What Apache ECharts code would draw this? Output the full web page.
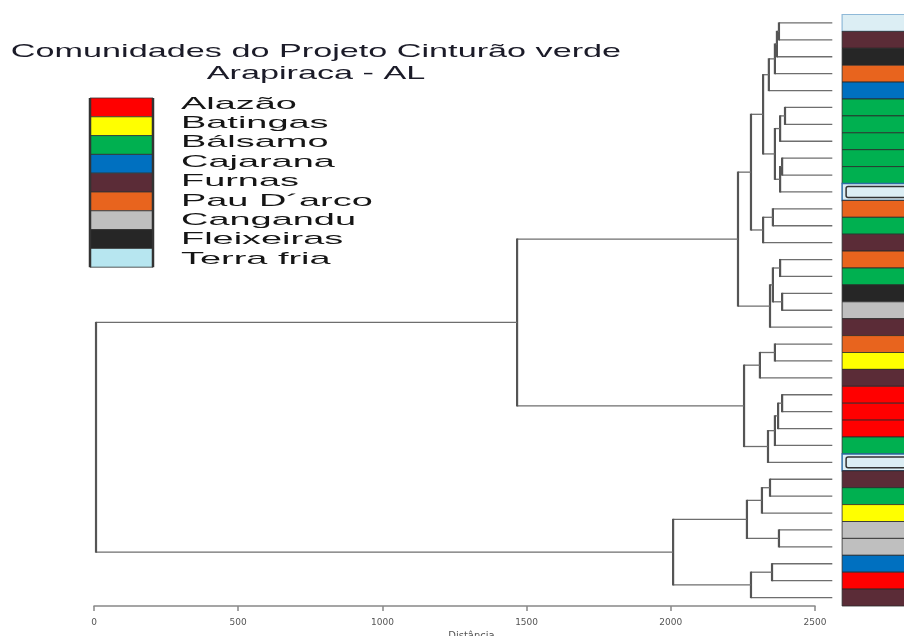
<!DOCTYPE html>
<html>
<head>
<meta charset="utf-8">
<script src="https://cdn.jsdelivr.net/npm/echarts@6/dist/echarts.min.js"></script>
<style>
html, body { margin: 0; padding: 0; background: #fff; }
#main { width: 904px; height: 636px; }
</style>
</head>
<body>
<div id="main"></div>
<script>
var chartDom = document.getElementById('main');
var myChart = echarts.init(chartDom);

// comunidades (legenda) e cores
var groupNames = ['Alazão', 'Batingas', 'Bálsamo', 'Cajarana', 'Furnas', 'Pau D´arco', 'Cangandu', 'Fleixeiras', 'Terra fria'];
var groupColors = ['#ff0000', '#ffff00', '#00b050', '#0070c0', '#5b2c37', '#e8641e', '#bfbfbf', '#262626', '#b7e6f0'];

// folhas do dendrograma, de cima para baixo
var leaves = ['Terra fria', 'Furnas', 'Fleixeiras', 'Pau D´arco', 'Cajarana',
    'Bálsamo', 'Bálsamo', 'Bálsamo', 'Bálsamo', 'Bálsamo', 'Terra fria',
    'Pau D´arco', 'Bálsamo', 'Furnas',
    'Pau D´arco', 'Bálsamo', 'Fleixeiras', 'Cangandu', 'Furnas',
    'Pau D´arco', 'Batingas', 'Furnas',
    'Alazão', 'Alazão', 'Alazão', 'Bálsamo', 'Terra fria',
    'Furnas', 'Bálsamo', 'Batingas', 'Cangandu', 'Cangandu',
    'Cajarana', 'Alazão', 'Furnas'];

// fusões: [no A, no B, distancia]; nos >= 35 sao grupos formados antes
var merges = [
    [0, 1, 2375], [35, 2, 2368], [36, 3, 2361], [37, 4, 2340],
    [5, 6, 2396], [39, 7, 2379], [8, 9, 2386], [41, 10, 2379], [40, 42, 2361],
    [38, 43, 2320],
    [11, 12, 2354], [45, 13, 2320], [44, 46, 2278],
    [14, 15, 2379], [16, 17, 2386], [48, 49, 2354], [50, 18, 2344],
    [47, 51, 2233],
    [19, 20, 2361], [53, 21, 2309],
    [22, 23, 2386], [55, 24, 2372], [56, 25, 2361], [57, 26, 2337],
    [54, 58, 2254],
    [52, 59, 1467],
    [27, 28, 2344], [61, 29, 2316], [30, 31, 2375], [62, 63, 2264],
    [32, 33, 2351], [65, 34, 2278], [64, 66, 2008],
    [60, 67, 7]
];
var leafEnd = 2560; // fim das linhas das folhas
var framedRows = [10, 26]; // linhas destacadas na coluna de cores

// posicoes dos nos
var nLeaf = leaves.length;
var nodeY = [], nodeH = [];
for (var i = 0; i < nLeaf; i++) {
    nodeY[i] = i;
    nodeH[i] = leafEnd;
}
var links = [];
for (var k = 0; k < merges.length; k++) {
    var a = merges[k][0], b = merges[k][1], h = merges[k][2];
    links.push([nodeY[a], nodeY[b], h, nodeH[a], nodeH[b]]);
    nodeY[nLeaf + k] = (nodeY[a] + nodeY[b]) / 2;
    nodeH[nLeaf + k] = h;
}
var cells = [];
for (var i = 0; i < nLeaf; i++) {
    cells.push([i, groupNames.indexOf(leaves[i])]);
}

// legenda desenhada a mao
var graphics = [];
var lgTop = 98, lgRow = 18.8;
for (var i = 0; i < groupNames.length; i++) {
    graphics.push({
        type: 'rect',
        shape: { x: 90, y: lgTop + i * lgRow, width: 63, height: lgRow },
        style: { fill: groupColors[i], stroke: '#333', lineWidth: 0.8 }
    });
    graphics.push({
        type: 'text', x: 181, y: 104 + i * 19.4, scaleX: 2.23,
        style: { text: groupNames[i], font: '17px "Liberation Sans"', fill: '#151515', align: 'left', verticalAlign: 'middle' }
    });
}
graphics.push({ type: 'line', shape: { x1: 90, y1: lgTop, x2: 90, y2: lgTop + 9 * lgRow }, style: { stroke: '#333', lineWidth: 2.5 } });
graphics.push({ type: 'line', shape: { x1: 153, y1: lgTop, x2: 153, y2: lgTop + 9 * lgRow }, style: { stroke: '#333', lineWidth: 2.5 } });
graphics.push({
    type: 'text', x: 316, y: 52, scaleX: 1.8,
    style: { text: 'Comunidades do Projeto Cinturão verde', font: '19px "Liberation Sans"', fill: '#1b1b28', align: 'center', verticalAlign: 'middle' }
});
graphics.push({
    type: 'text', x: 316, y: 73.5, scaleX: 1.8,
    style: { text: 'Arapiraca - AL', font: '19px "Liberation Sans"', fill: '#1b1b28', align: 'center', verticalAlign: 'middle' }
});

var option = {
    backgroundColor: '#fff',
    animation: false,
    grid: { left: 94, right: 89, top: 14.5, bottom: 30, containLabel: false, outerBoundsMode: 'none' },
    xAxis: {
        type: 'value', min: 0, max: 2500, interval: 500, position: 'bottom',
        name: 'Distância', nameLocation: 'middle', nameGap: 25,
        nameTextStyle: { fontSize: 10, color: '#555', fontFamily: 'DejaVu Sans', padding: [0, 0, 0, 34] },
        axisLine: { show: true, onZero: false, lineStyle: { color: '#888', width: 1.5 } },
        axisTick: { show: true, length: 5, lineStyle: { color: '#888', width: 1.5 } },
        axisLabel: {
            fontSize: 9, color: '#555', fontFamily: 'DejaVu Sans', margin: 12,
            formatter: function(v) { return String(v); }
        },
        splitLine: { show: false }
    },
    yAxis: { type: 'value', min: -0.5, max: 34.5, inverse: true, show: false },
    graphic: graphics,
    series: [{
        type: 'custom', clip: false,
        encode: { x: [2, 3, 4], y: [0, 1] },
        data: links,
        renderItem: function(params, api) {
            var pA = api.coord([api.value(2), api.value(0)]);
            var pB = api.coord([api.value(2), api.value(1)]);
            var eA = api.coord([api.value(3), api.value(0)]);
            var eB = api.coord([api.value(4), api.value(1)]);
            return {
                type: 'group',
                children: [
                    { type: 'line', shape: { x1: pA[0], y1: pA[1], x2: eA[0], y2: eA[1] }, style: { stroke: '#6e6e6e', lineWidth: 1.3 } },
                    { type: 'line', shape: { x1: pB[0], y1: pB[1], x2: eB[0], y2: eB[1] }, style: { stroke: '#6e6e6e', lineWidth: 1.3 } },
                    { type: 'line', shape: { x1: pA[0], y1: pA[1] - 0.6, x2: pB[0], y2: pB[1] + 0.6 }, style: { stroke: '#555', lineWidth: 2.2 } }
                ]
            };
        }
    }, {
        type: 'custom', clip: false,
        encode: { y: 0, x: 1 },
        data: cells,
        renderItem: function(params, api) {
            var row = api.value(0), g = api.value(1);
            var p0 = api.coord([2594, row - 0.5]);
            var p1 = api.coord([2950, row + 0.5]);
            var rect = { x: p0[0], y: p0[1], width: p1[0] - p0[0], height: p1[1] - p0[1] };
            if (groupNames[g] == 'Terra fria') {
                if (framedRows.indexOf(row) >= 0) {
                    return {
                        type: 'group',
                        children: [
                            { type: 'rect', shape: rect, style: { fill: '#dceef4', stroke: '#2e6da4', lineWidth: 1.5 } },
                            { type: 'rect', shape: { x: rect.x + 4, y: rect.y + 3, width: rect.width, height: rect.height - 6, r: 2 }, style: { fill: '#dceef4', stroke: '#333', lineWidth: 1.5 } }
                        ]
                    };
                }
                return { type: 'rect', shape: rect, style: { fill: '#dceef4', stroke: '#8fb9d8', lineWidth: 1.2 } };
            }
            return { type: 'rect', shape: rect, style: { fill: groupColors[g], stroke: '#2a2a2a', lineWidth: 0.8 } };
        }
    }]
};
option && myChart.setOption(option);
</script>
</body>
</html>
